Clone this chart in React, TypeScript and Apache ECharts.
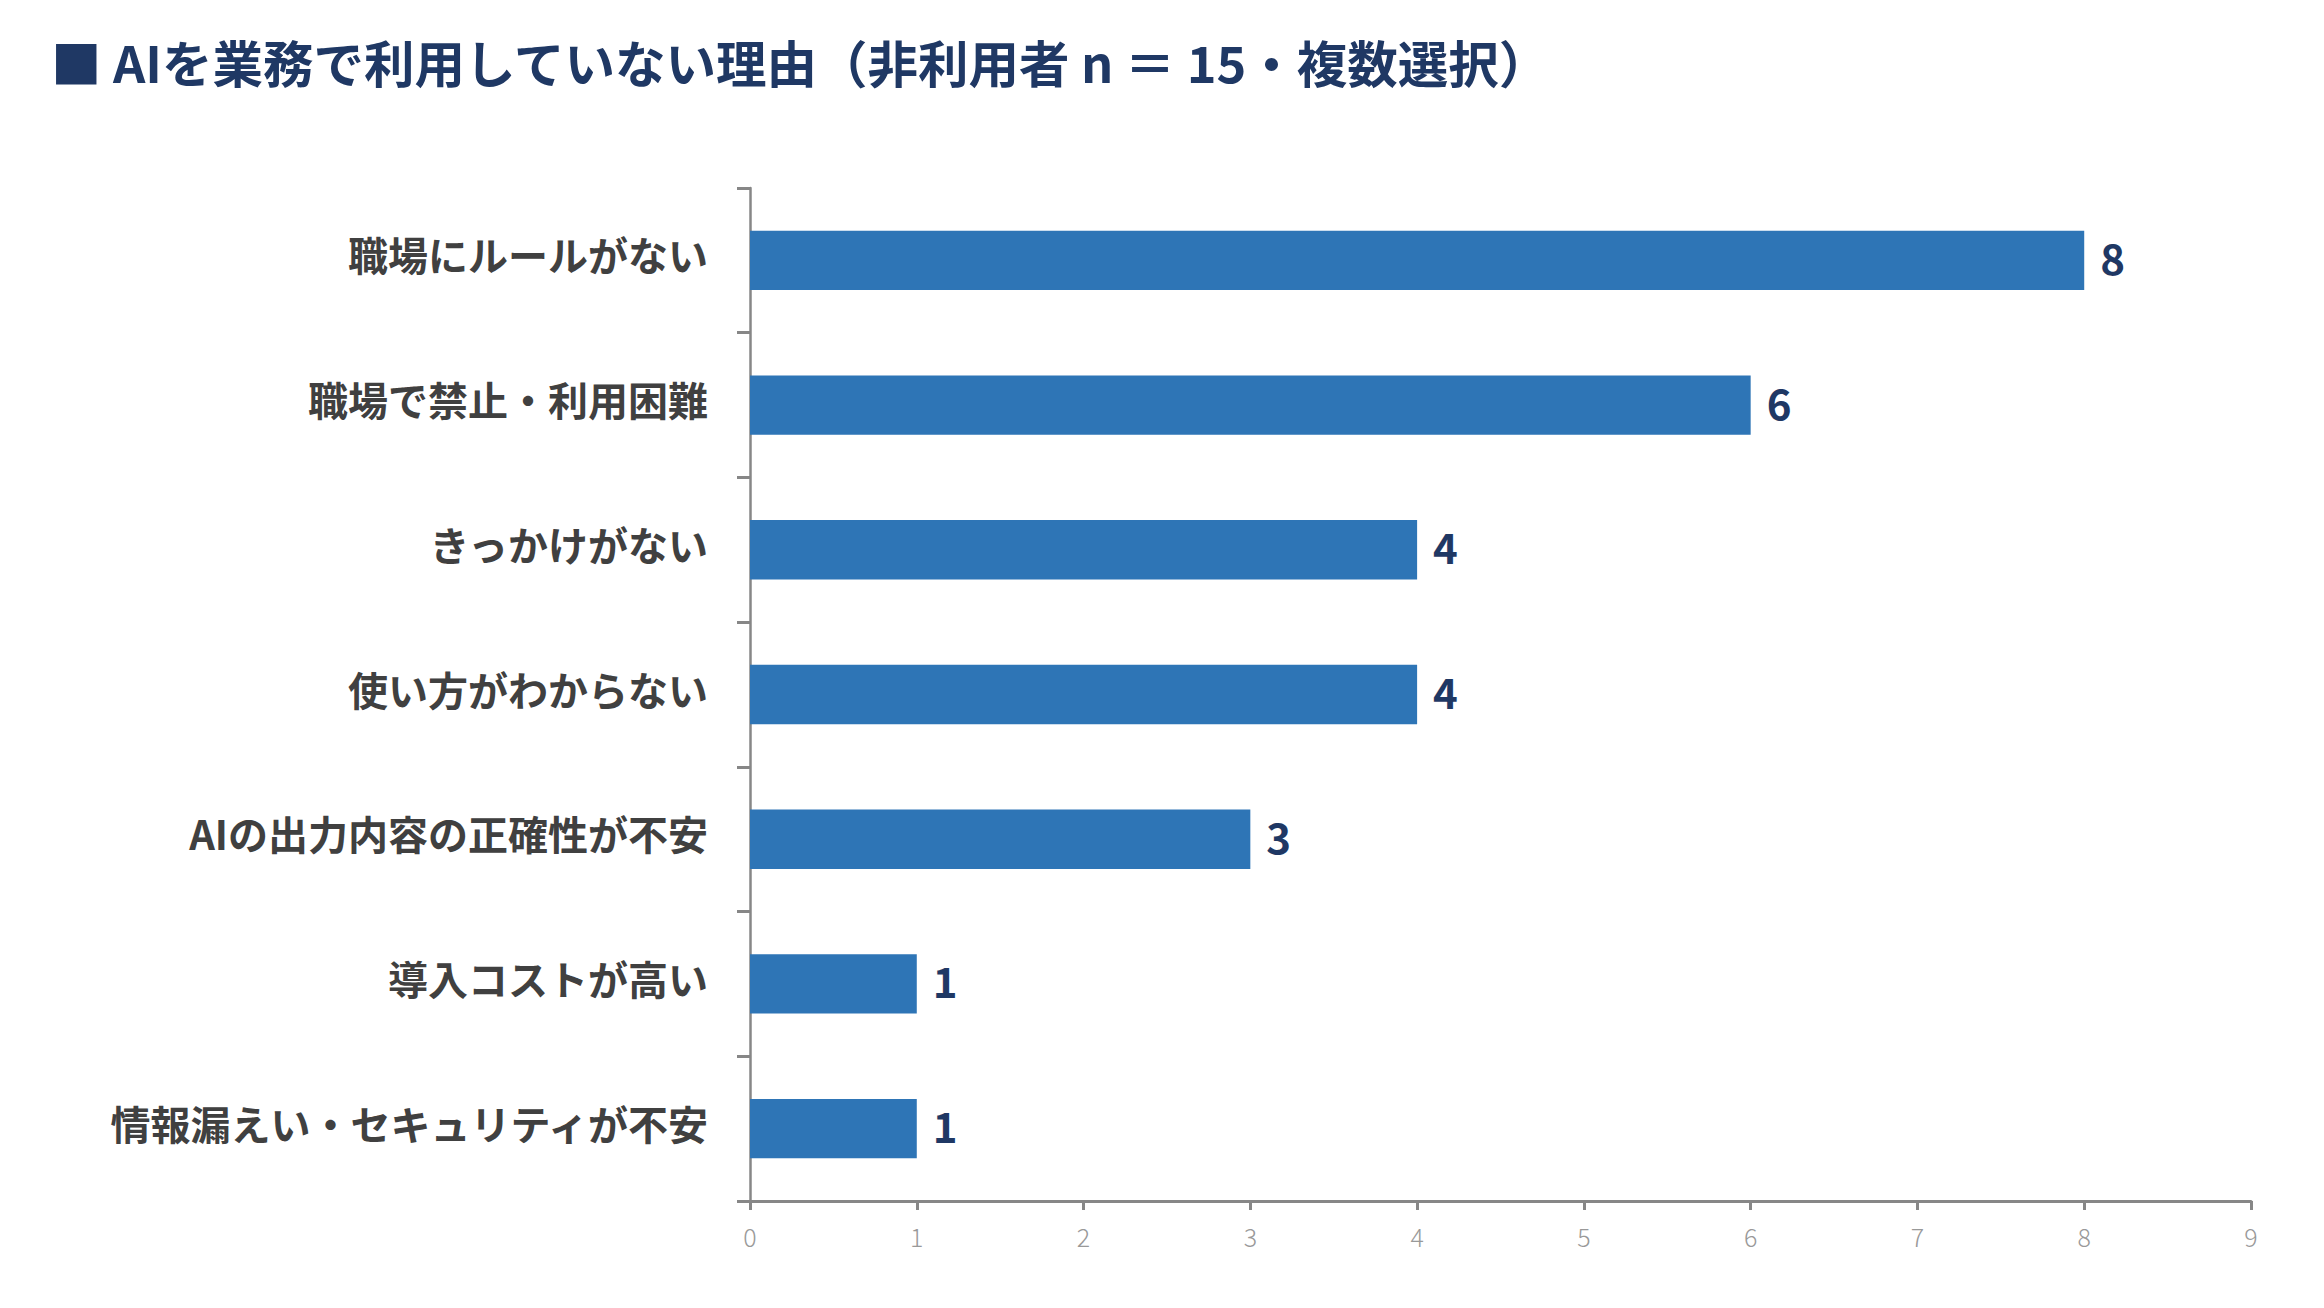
import React, { useEffect, useRef } from "react";
import * as echarts from "echarts";

const categories = [
  "職場にルールがない",
  "職場で禁止・利用困難",
  "きっかけがない",
  "使い方がわからない",
  "AIの出力内容の正確性が不安",
  "導入コストが高い",
  "情報漏えい・セキュリティが不安",
];
const values = [8, 6, 4, 4, 3, 1, 1];
const titleText = "■ AIを業務で利用していない理由（非利用者 n ＝ 15・複数選択）";

const FONT = "'Noto Sans CJK JP', 'Noto Sans', sans-serif";

export default function App() {
  const ref = useRef<HTMLDivElement>(null);
  useEffect(() => {
    document.body.style.margin = "0";
    if (!ref.current) return;
    const chart = echarts.init(ref.current, undefined, { renderer: "svg" });
    chart.setOption({
      animation: false,
      backgroundColor: "#ffffff",
      textStyle: { fontFamily: FONT },
      title: {
        text: titleText,
        left: 46,
        top: 31,
        textStyle: {
          fontFamily: FONT,
          fontSize: 50.5,
          fontWeight: "bold",
          color: "#1f3864",
        },
      },
      grid: { left: 750, right: 73, top: 188, bottom: 107, containLabel: false },
      xAxis: {
        type: "value",
        min: 0,
        max: 9,
        interval: 1,
        splitLine: { show: false },
        axisLine: { show: true, lineStyle: { color: "#878787", width: 3 } },
        axisTick: { show: true, length: 9, lineStyle: { color: "#878787", width: 3 } },
        axisLabel: {
          margin: 22,
          fontSize: 25,
          fontWeight: 300,
          color: "#999999",
          fontFamily: FONT,
        },
      },
      yAxis: {
        type: "category",
        inverse: true,
        data: categories,
        axisLine: { show: true, lineStyle: { color: "#878787", width: 2.5 } },
        axisTick: { show: true, length: 13, lineStyle: { color: "#878787", width: 3 } },
        axisLabel: {
          margin: 42,
          fontSize: 40,
          fontWeight: "bold",
          color: "#404040",
          fontFamily: FONT,
          formatter: (v: string) => "{a|" + v + "}",
          rich: {
            a: {
              fontSize: 40,
              fontWeight: "bold",
              color: "#404040",
              fontFamily: FONT,
              lineHeight: 40,
              padding: [0, 0, 12, 0],
            },
          },
        },
      },
      series: [
        {
          type: "bar",
          data: values,
          barCategoryGap: "59%",
          itemStyle: { color: "#2e75b6" },
          label: {
            show: true,
            position: "right",
            distance: 16,
            offset: [0, -4],
            fontSize: 42,
            fontWeight: "bold",
            color: "#1f3864",
            fontFamily: FONT,
          },
        },
      ],
    });
    return () => chart.dispose();
  }, []);
  return <div ref={ref} style={{ width: 2324, height: 1308 }} />;
}
